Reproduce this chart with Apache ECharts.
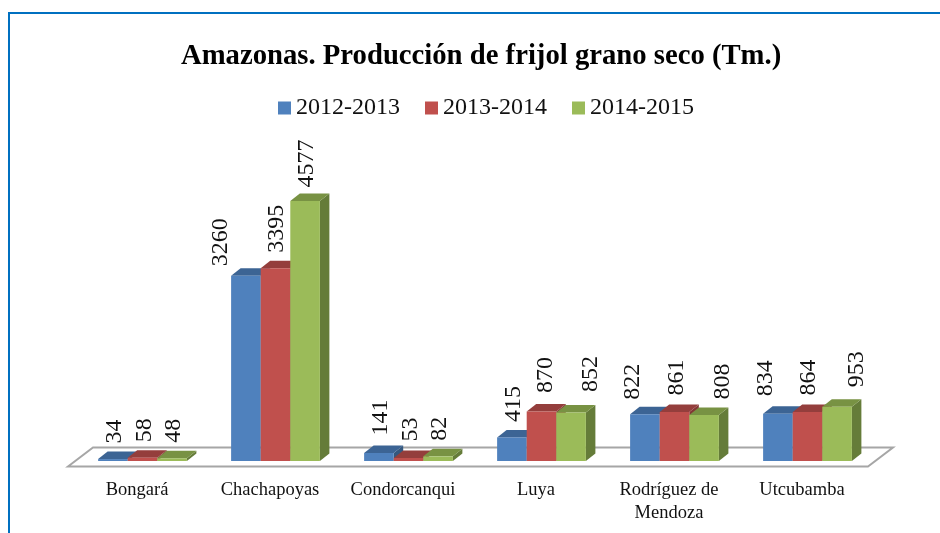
<!DOCTYPE html>
<html>
<head>
<meta charset="utf-8">
<title>Amazonas</title>
<script src="https://cdn.jsdelivr.net/npm/echarts@6/dist/echarts.min.js"></script>
<style>
  html, body { margin: 0; padding: 0; background: #fff; }
  #chart { width: 940px; height: 533px; }
</style>
</head>
<body>
<div id="chart"></div>
<script>
const provinces = ["Bongará", "Chachapoyas", "Condorcanqui", "Luya", "Rodríguez de\nMendoza", "Utcubamba"];
const years = ["2012-2013", "2013-2014", "2014-2015"];
const values2012 = [34, 3260, 141, 415, 822, 834];
const values2013 = [58, 3395, 53, 870, 861, 864];
const values2014 = [48, 4577, 82, 852, 808, 953];

const serif = '"Liberation Serif", "Times New Roman", serif';
// front, top, side of each 3d bar
const shades = [
  ["#4f81bd", "#3c6494", "#34587f"],
  ["#c0504d", "#943e3c", "#833735"],
  ["#9bbb59", "#789243", "#657c39"],
];
// labels that sit away from their bar in the picture, px
const labelShift = [
  [[2, -1], [-25, 5], [2, -3], [2, -1], [-12, 0], [-12, -3]],
  [[2, -1], [1, -1], [2, -2], [4, -4], [2, -2], [1, -2]],
  [[2, -1], [2, 1], [2, -1], [20, -6], [19, -1], [20, -5]],
];

function barItem(seriesIndex) {
  return function (params, api) {
    const i = params.dataIndex;
    const band = api.size([1, 0])[0];
    const w = band * 0.2225;
    const base = api.coord([api.value(0), 0]);
    const top = api.coord([api.value(0), api.value(1)]);
    const x = base[0] + 5.5 - w * 1.5 + w * seriesIndex;
    const dx = 9.5, dy = 7.5;
    const colors = shades[seriesIndex];
    const shift = labelShift[seriesIndex][i];
    return {
      type: "group",
      children: [
        { type: "polygon", shape: { points: [[x + w, top[1]], [x + w + dx, top[1] - dy], [x + w + dx, base[1] - dy], [x + w, base[1]]] }, style: { fill: colors[2] } },
        { type: "polygon", shape: { points: [[x, top[1]], [x + dx, top[1] - dy], [x + w + dx, top[1] - dy], [x + w, top[1]]] }, style: { fill: colors[1] } },
        { type: "rect", shape: { x: x, y: top[1], width: w, height: base[1] - top[1] }, style: { fill: colors[0] } },
        {
          type: "text",
          x: x + w / 2 + shift[0],
          y: top[1] - dy - 7 + shift[1],
          rotation: Math.PI / 2,
          style: { text: String(api.value(1)), font: "24px " + serif, fill: "#111", textAlign: "left", textVerticalAlign: "middle" },
          z2: 50,
        },
      ],
    };
  };
}

function floorItem(params) {
  const g = params.coordSys;
  const bottom = g.y + g.height;
  return {
    type: "polygon",
    shape: { points: [[g.x - 2.5, bottom + 5.5], [g.x + 22.5, bottom - 13.5], [g.x + g.width + 24.5, bottom - 13.5], [g.x + g.width - 0.5, bottom + 5.5]] },
    style: { fill: "#fff", stroke: "#a6a6a6", lineWidth: 2 },
  };
}

const barSeries = [values2012, values2013, values2014].map(function (vals, s) {
  return {
    name: years[s],
    type: "custom",
    renderItem: barItem(s),
    encode: { x: 0, y: 1 },
    itemStyle: { color: shades[s][0] },
    data: vals.map(function (v, i) { return [i, v]; }),
    z: 3 + s,
    silent: true,
  };
});

const chart = echarts.init(document.getElementById("chart"));
chart.setOption({
  animation: false,
  backgroundColor: "#fff",
  title: {
    text: "Amazonas. Producción de frijol grano seco (Tm.)",
    left: 176, top: 37,
    textStyle: { fontFamily: serif, fontSize: 28.7, fontWeight: "bold", color: "#000" },
  },
  legend: {
    data: years,
    left: 273, top: 91,
    icon: "rect",
    itemWidth: 13, itemHeight: 13, itemGap: 25,
    textStyle: { fontFamily: serif, fontSize: 24, color: "#111", padding: [0, 0, 0, 0] },
  },
  graphic: [{
    type: "polyline",
    shape: { points: [[9, 533], [9, 13], [940, 13]] },
    style: { stroke: "#0070c0", lineWidth: 2, fill: null },
  }],
  grid: { left: 70.5, top: 177, width: 798, height: 284 },
  xAxis: {
    type: "category",
    data: provinces,
    axisLine: { show: false },
    axisTick: { show: false },
    axisLabel: { interval: 0, margin: 18, fontFamily: serif, fontSize: 18.5, color: "#111", lineHeight: 22.5, verticalAlign: "top" },
  },
  yAxis: { type: "value", min: 0, max: 5000, show: false },
  series: [{
    type: "custom",
    renderItem: floorItem,
    data: [[0, 0]],
    encode: { x: 0, y: 1 },
    z: 1,
    silent: true,
  }].concat(barSeries),
});
</script>
</body>
</html>
